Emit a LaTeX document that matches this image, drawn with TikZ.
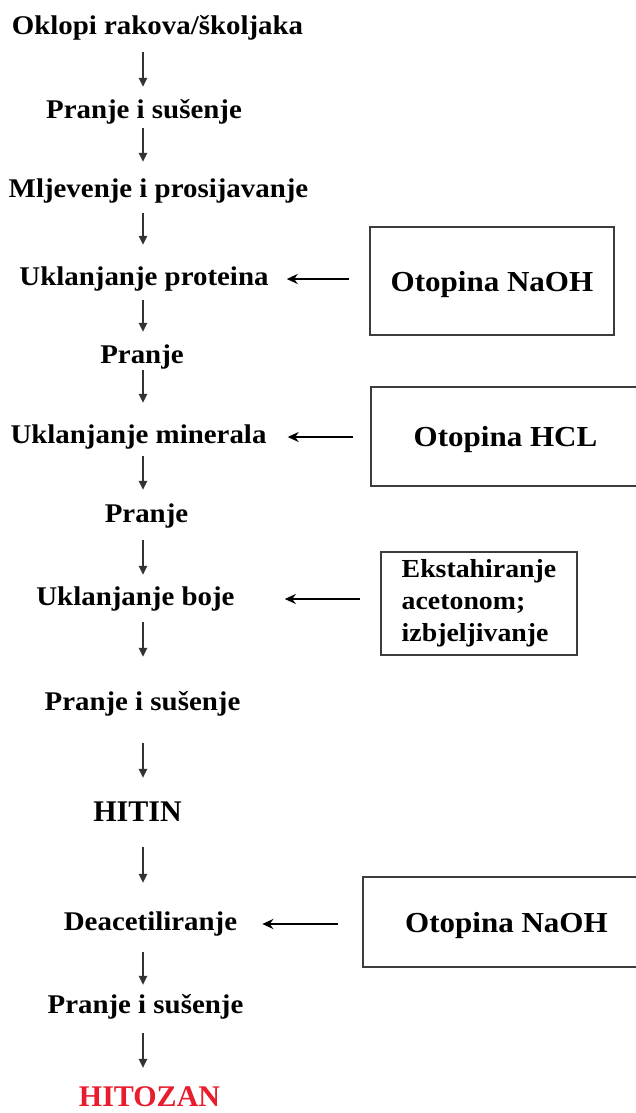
\documentclass[tikz,border=0pt]{standalone}
\usepackage{fontspec}
\setmainfont[FakeStretch=1.07]{Liberation Serif}
\newfontfamily\plainserif{Liberation Serif}
\usetikzlibrary{arrows.meta}

\definecolor{hitozanred}{RGB}{232,28,44}
\definecolor{boxgray}{RGB}{60,60,60}

\begin{document}
\begin{tikzpicture}[x=1pt,y=-1pt,
    stepnode/.style={font=\fontsize{27}{32}\selectfont\bfseries,inner sep=0pt,anchor=base,text height=18pt,text depth=6pt},
    bignode/.style={stepnode,font=\fontsize{30}{34}\selectfont\plainserif\bfseries,text height=21pt,text depth=0pt},
    agentbox/.style={draw=boxgray,line width=1.8pt,inner sep=0pt,font=\fontsize{29}{34}\selectfont\bfseries},
    solution/.style={agentbox,text depth=0pt},
    down/.style={draw=black!80,line width=1.3pt,-{Triangle[length=9pt,width=8.5pt]}},
    feed/.style={line width=2.4pt,-{Stealth[length=11pt,width=10pt]}}]
        \useasboundingbox (0,0) rectangle (636,1113);
        \coordinate (axis) at (143,0);
        % main steps
        \node[stepnode] (n1) at (157.5,35) {Oklopi rakova/školjaka};
        \node[stepnode] (n2) at (144,119) {Pranje i sušenje};
        \node[stepnode] (n3) at (158.5,197) {Mljevenje i prosijavanje};
        \node[stepnode] (n4) at (144,285) {Uklanjanje proteina};
        \node[stepnode] (n5) at (142,363) {Pranje};
        \node[stepnode] (n6) at (138.5,443) {Uklanjanje minerala};
        \node[stepnode] (n7) at (146.5,522) {Pranje};
        \node[stepnode] (n8) at (135.5,605) {Uklanjanje boje};
        \node[stepnode] (n9) at (142.5,710) {Pranje i sušenje};
        \node[bignode] (n10) at (137.5,821) {HITIN};
        \node[stepnode] (n11) at (150.5,930) {Deacetiliranje};
        \node[stepnode] (n12) at (145.5,1013) {Pranje i sušenje};
        \node[bignode,text=hitozanred] (n13) at (149.5,1106) {HITOZAN};
        % side boxes
        \node[solution,minimum width=244pt,minimum height=108pt] (b1) at (492,281) {Otopina NaOH};
        \node[solution,minimum width=269pt,minimum height=99pt] (b2) at (505.5,436.5) {Otopina HCL};
        \node[agentbox,font=\fontsize{26}{32}\selectfont\bfseries,align=left,minimum width=196pt,minimum height=103pt] (b3) at (479,603.5) {Ekstahiranje\\acetonom;\\izbjeljivanje};
        \node[solution,minimum width=287pt,minimum height=90pt] (b4) at (506.5,922) {Otopina NaOH};
        % arrows down
        \foreach \a/\b/\s/\e in {n1/n2/11/14,n2/n3/3/17,n3/n4/10/22,n4/n5/9/13,n5/n6/1/22,n6/n7/7/14,n7/n8/12/12,n8/n9/11/35,n9/n10/27/22,n10/n11/26/29,n11/n12/16/10,n12/n13/14/17}
            \draw[down,shorten <=\s pt,shorten >=\e pt] (\a.south -| axis) -- (\b.north -| axis);
        % arrows from the boxes
        \draw[feed,shorten <=20pt,shorten >=18pt] (b1.west |- n4.east) -- (n4.east);
        \draw[feed,shorten <=17pt,shorten >=21pt] (b2.west |- n6.east) -- (n6.east);
        \draw[feed,shorten <=20pt,shorten >=50pt] (b3.west |- n8.east) -- (n8.east);
        \draw[feed,shorten <=24pt,shorten >=25pt] (b4.west |- n11.east) -- (n11.east);
    \end{tikzpicture}
\end{document}
